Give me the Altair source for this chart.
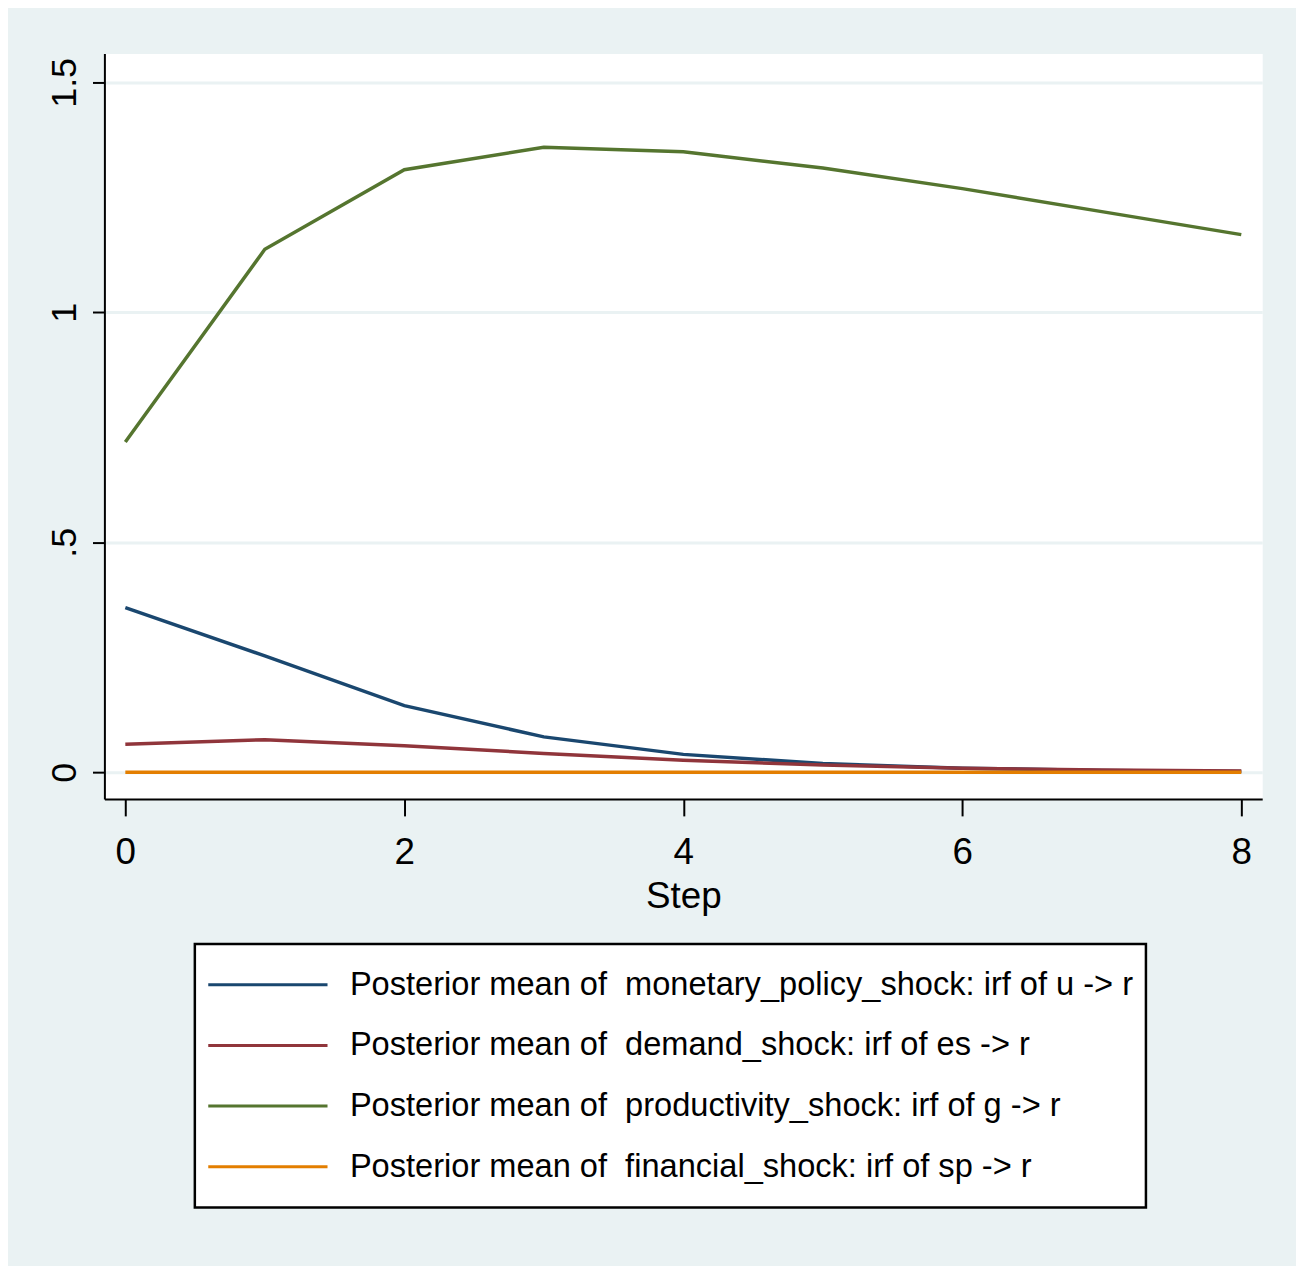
import altair as alt
import pandas as pd

steps = [0, 1, 2, 3, 4, 5, 6, 7, 8]
monetary = [0.358, 0.253, 0.145, 0.077, 0.039, 0.019, 0.009, 0.004, 0.002]
demand = [0.061, 0.071, 0.058, 0.041, 0.026, 0.016, 0.009, 0.005, 0.003]
productivity = [0.718, 1.137, 1.310, 1.359, 1.349, 1.314, 1.269, 1.219, 1.169]
financial = [0.0, 0.0, 0.0, 0.0, 0.0, 0.0, 0.0, 0.0, 0.0]

series_names = [
    "Posterior mean of \u00a0monetary_policy_shock: irf of u -> r",
    "Posterior mean of \u00a0demand_shock: irf of es -> r",
    "Posterior mean of \u00a0productivity_shock: irf of g -> r",
    "Posterior mean of \u00a0financial_shock: irf of sp -> r",
]
series_colors = ["#1a476f", "#90353b", "#55752f", "#e37e00"]
x_ticks = [0, 2, 4, 6, 8]
y_ticks = [0, 0.5, 1, 1.5]

rows = []
for i, vals in enumerate([monetary, demand, productivity, financial]):
    for s, v in zip(steps, vals):
        rows.append({"step": s, "value": v, "series": series_names[i], "order": i})
df = pd.DataFrame(rows)

FONT = "Liberation Sans, Arial, sans-serif"

chart = alt.Chart(df).mark_line(strokeWidth=3.5).encode(
    x=alt.X("step:Q",
            scale=alt.Scale(domain=[-0.15, 8.15], nice=False, zero=False),
            axis=alt.Axis(values=x_ticks, title="Step", grid=False,
                          labelFont=FONT, labelFontSize=37, labelColor="black",
                          labelPadding=19, tickSize=17, tickWidth=2, tickColor="black",
                          domainColor="black", domainWidth=2,
                          titleFont=FONT, titleFontSize=37, titleFontWeight="normal",
                          titleColor="black", titlePadding=8, labelFlush=False)),
    y=alt.Y("value:Q",
            scale=alt.Scale(domain=[-0.058, 1.5625], nice=False, zero=False),
            axis=alt.Axis(values=y_ticks, title=None, grid=True, gridColor="#eaf2f3",
                          gridWidth=3,
                          labelExpr="datum.value == 0.5 ? '.5' : format(datum.value, '~g')",
                          labelAngle=270, labelAlign="center", labelBaseline="bottom",
                          labelFont=FONT, labelFontSize=36, labelColor="black",
                          labelPadding=9, tickSize=12, tickWidth=2, tickColor="black",
                          domainColor="black", domainWidth=2, labelFlush=False)),
    color=alt.Color("series:N",
                    scale=alt.Scale(domain=series_names, range=series_colors),
                    legend=alt.Legend(title=None, orient="none", legendX=91, legendY=896,
                                      direction="vertical", strokeColor="black",
                                      fillColor="white", padding=12,
                                      symbolType="stroke", symbolSize=14400,
                                      symbolStrokeWidth=3, labelFont=FONT,
                                      labelFontSize=32.8, labelColor="black",
                                      labelOffset=21, rowPadding=3, clipHeight=58,
                                      labelExpr="datum.label + '\u00a0\u00a0\u00a0\u00a0'",
                                      labelLimit=2000)),
    detail="order:O",
    order="order:O",
).properties(
    width=1165,
    height=750,
    background="#eaf2f3",
    padding={"left": 97, "top": 42, "right": 34, "bottom": 466},
    autosize=alt.AutoSizeParams(type="none"),
).configure_view(stroke="transparent", fill="white").configure_legend(strokeWidth=2.5)

chart.save("out.html", embed_options={"renderer": "svg", "actions": False})
